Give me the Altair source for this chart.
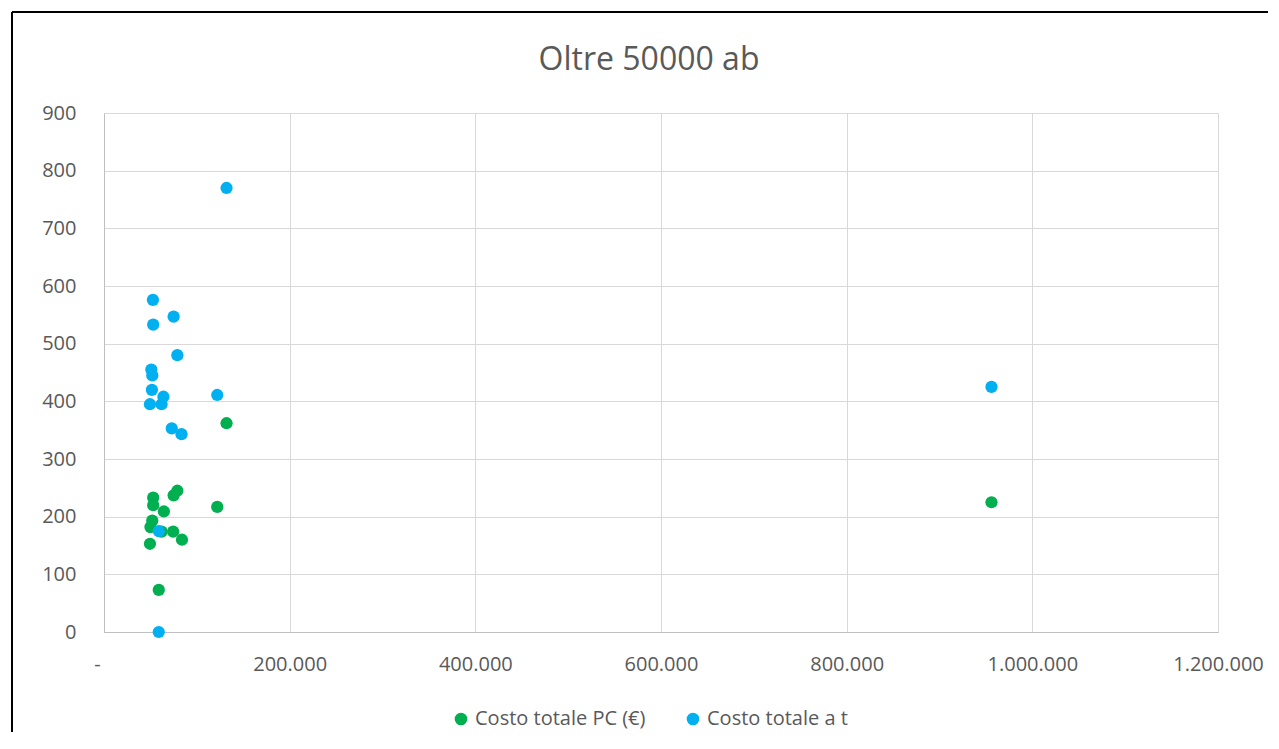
import altair as alt
import pandas as pd

# Costo totale PC (€)
pc_pop = [132000, 79000, 75000, 53000, 53000, 64500, 122000, 52000, 50000, 62000, 74500, 84000, 49500, 59000, 956000]
pc_cost = [362, 245, 237, 233, 220, 209, 217, 193, 182, 174, 174, 160, 153, 73, 225]

# Costo totale a t
t_pop = [52700, 75000, 53000, 79000, 51000, 52000, 51600, 64000, 49500, 62000, 122000, 73000, 83500, 132000, 956000, 59000, 59000]
t_cost = [576, 547, 533, 480, 455, 445, 420, 408, 395, 395, 411, 353, 343, 770, 425, 175, 0]

series_names = ["Costo totale PC (€)", "Costo totale a t"]
series_colors = ["#00b050", "#00b0f0"]
title_text = ["Oltre 50000 ab"]

df = pd.concat([
    pd.DataFrame({"x": pc_pop, "y": pc_cost, "serie": series_names[0], "ord": 0}),
    pd.DataFrame({"x": t_pop, "y": t_cost, "serie": series_names[1], "ord": 1}),
], ignore_index=True)

W, H = 1114, 519
FONT = "Open Sans"
GREY = "#595959"

points = alt.Chart(df).mark_circle(size=150, opacity=1).encode(
    x=alt.X("x:Q", scale=alt.Scale(domain=[0, 1200000], nice=False),
            axis=alt.Axis(values=[0, 200000, 400000, 600000, 800000, 1000000, 1200000],
                          labelExpr="datum.value == 0 ? '-' : join(split(format(datum.value, ','), ','), '.')",
                          labelOffset={"condition": {"test": "datum.value == 0", "value": -7}, "value": 0},
                          title=None, grid=True, gridColor="#d9d9d9", domainColor="#bfbfbf",
                          ticks=False, labelPadding=22, labelFontSize=20, labelColor=GREY,
                          labelFont=FONT, labelFlush=False, labelOverlap=False)),
    y=alt.Y("y:Q", scale=alt.Scale(domain=[0, 900], nice=False),
            axis=alt.Axis(values=list(range(0, 1000, 100)), title=None, grid=True,
                          gridColor="#d9d9d9", domainColor="#bfbfbf", ticks=False,
                          labelPadding=28, labelFontSize=20, labelColor=GREY,
                          labelFont=FONT, labelOverlap=False)),
    color=alt.Color("serie:N", scale=alt.Scale(domain=series_names, range=series_colors),
                    legend=alt.Legend(title=None, orient="none", direction="horizontal",
                                      legendX=347, legendY=596, symbolType="circle",
                                      symbolSize=160, labelFontSize=20, labelColor=GREY,
                                      labelFont=FONT, labelOffset=4, columnPadding=37,
                                      labelLimit=400, symbolOpacity=1, symbolStrokeWidth=0)),
    order=alt.Order("ord:Q"),
)

title = alt.Chart(pd.DataFrame({"t": title_text})).mark_text(
    font=FONT, fontSize=32, color=GREY, align="center", baseline="alphabetic"
).encode(text="t:N", x=alt.value(545), y=alt.value(-43))

frame_top = alt.Chart(pd.DataFrame({"a": [0]})).mark_rule(
    color="black", strokeWidth=2, clip=False
).encode(x=alt.value(-92), x2=alt.value(W + 300), y=alt.value(-101))

frame_left = alt.Chart(pd.DataFrame({"a": [0]})).mark_rule(
    color="black", strokeWidth=2, clip=False
).encode(x=alt.value(-92), y=alt.value(-101), y2=alt.value(H + 300))

chart = alt.layer(frame_top, frame_left, title, points).properties(
    width=W, height=H,
    autosize=alt.AutoSizeParams(type="none"),
    padding={"left": 96, "top": 105, "right": 50, "bottom": 100},
).configure_view(stroke=None)

chart.save("out.html", embed_options={"renderer": "svg", "actions": False})
